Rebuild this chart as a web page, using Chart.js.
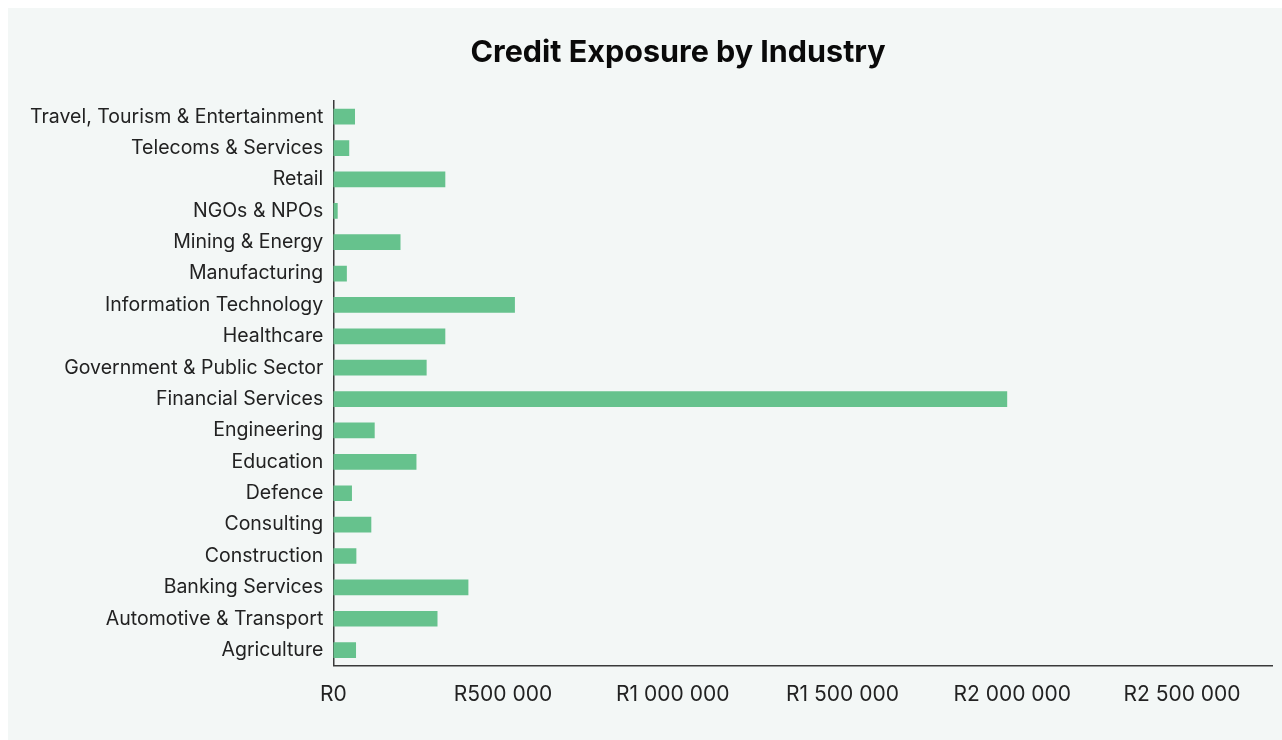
<!DOCTYPE html>
<html>
<head>
<meta charset="utf-8">
<script src="https://cdn.jsdelivr.net/npm/chart.js@4"></script>
<style>
  html, body { margin: 0; padding: 0; background: #fff; }
  #wrap {
    position: absolute; left: 8px; top: 8px;
    width: 1274px; height: 732px;
    background: #f3f7f6;
  }
  canvas { display: block; }
</style>
</head>
<body>
<div id="wrap"><canvas id="chart" width="1274" height="732"></canvas></div>
<script>
// Industries, top to bottom as shown
const industries = [
  "Travel, Tourism & Entertainment",
  "Telecoms & Services",
  "Retail",
  "NGOs & NPOs",
  "Mining & Energy",
  "Manufacturing",
  "Information Technology",
  "Healthcare",
  "Government & Public Sector",
  "Financial Services",
  "Engineering",
  "Education",
  "Defence",
  "Consulting",
  "Construction",
  "Banking Services",
  "Automotive & Transport",
  "Agriculture",
];

// Exposure in Rand
const exposure = [
  64000, 47000, 330000, 13000, 198000, 40000, 535000, 330000, 275000,
  1985000, 122000, 245000, 55000, 112000, 68000, 398000, 307000, 67000,
];

// x axis tick values (R)
const xTicks = [0, 500000, 1000000, 1500000, 2000000, 2500000];
const axisMax = 2765000;

const barColor = "#66c28d";
const axisColor = "#3a3a3a";
const fontFamily = "Inter, 'Noto Sans', sans-serif";

// Rand format with space as thousands separator
const formatRand = (v) =>
  "R" + String(Math.round(v)).replace(/\B(?=(\d{3})+(?!\d))/g, " ");

// Title drawn slightly off-centre, like the reference
const titlePlugin = {
  id: "offsetTitle",
  afterDraw(chart) {
    const ctx = chart.ctx;
    ctx.save();
    ctx.font = "bold 30.5px " + fontFamily;
    ctx.fillStyle = "#0a0a0a";
    ctx.textAlign = "center";
    ctx.textBaseline = "middle";
    ctx.fillText("Credit Exposure by Industry", 670, 45);
    ctx.restore();
  },
};

const ctx = document.getElementById("chart").getContext("2d");
new Chart(ctx, {
  type: "bar",
  data: {
    labels: industries,
    datasets: [
      {
        data: exposure,
        backgroundColor: barColor,
        borderWidth: 0,
        barPercentage: 0.5,
        categoryPercentage: 1,
      },
    ],
  },
  plugins: [titlePlugin],
  options: {
    indexAxis: "y",
    responsive: false,
    animation: false,
    layout: { padding: { top: 93, right: 10, bottom: 17, left: 12 } },
    plugins: {
      legend: { display: false },
      tooltip: { enabled: false },
      title: { display: false },
    },
    scales: {
      x: {
        min: 0,
        max: axisMax,
        afterBuildTicks: (axis) => {
          axis.ticks = xTicks.map((v) => ({ value: v }));
        },
        ticks: {
          autoSkip: false,
          callback: (v) => formatRand(v),
          color: "#222",
          font: { family: fontFamily, size: 21 },
          padding: 16,
          maxRotation: 0,
        },
        grid: { display: false, drawTicks: false },
        border: { display: true, color: axisColor, width: 1.5 },
      },
      y: {
        ticks: {
          color: "#222",
          font: { family: fontFamily, size: 19.5 },
          padding: 10,
        },
        grid: { display: false, drawTicks: false },
        border: { display: true, color: axisColor, width: 1.5 },
      },
    },
  },
});
</script>
</body>
</html>
